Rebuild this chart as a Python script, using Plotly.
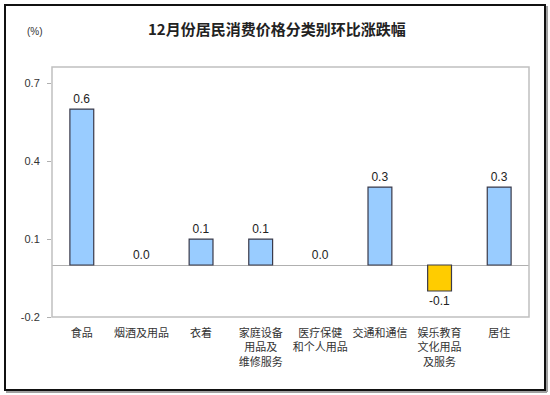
import plotly.graph_objects as go

categories = ["食品", "烟酒及用品", "衣着", "家庭设备<br>用品及<br>维修服务", "医疗保健<br>和个人用品",
              "交通和通信", "娱乐教育<br>文化用品<br>及服务", "居住"]
values = [0.6, 0.0, 0.1, 0.1, 0.0, 0.3, -0.1, 0.3]
labels = ["0.6", "0.0", "0.1", "0.1", "0.0", "0.3", "-0.1", "0.3"]
y_ticks = [-0.2, 0.1, 0.4, 0.7]
y_ticktext = ["-0.2", "0.1", "0.4", "0.7"]

colors = ["#FFCC00" if v < 0 else "#99CCFF" for v in values]
line_w = [0 if v == 0 else 1.2 for v in values]

fig = go.Figure()
fig.add_trace(go.Bar(
    x=categories, y=values, width=0.4,
    marker=dict(color=colors, line=dict(color="#3a3a4a", width=line_w)),
    text=labels, textposition="outside", cliponaxis=False,
    textfont=dict(size=12, color="#222", family="Arial, Liberation Sans, sans-serif"),
))

L, R, T, B = 52, 21, 67, 78
W, H = 550, 395
pw, ph = W - L - R, H - T - B

def px(x):
    return (x - L) / pw

def py(y):
    return (H - B - y) / ph

fig.update_layout(
    width=W, height=H,
    margin=dict(l=L, r=R, t=T, b=B, autoexpand=False),
    paper_bgcolor="white", plot_bgcolor="white",
    showlegend=False,
    font=dict(family="Noto Sans CJK SC, sans-serif", color="#333"),
    xaxis=dict(showgrid=False, showline=False, ticks="", automargin=False, ticklabelstandoff=8,
               tickfont=dict(size=11, color="#333"), tickangle=0, fixedrange=True),
    yaxis=dict(range=[-0.2, 0.762], tickvals=y_ticks, ticktext=y_ticktext, showgrid=False,
               automargin=False, zeroline=True, zerolinecolor="#b0b0b0", zerolinewidth=1.2,
               showline=False, ticks="outside", ticklen=4, tickcolor="#b0b0b0", ticklabelstandoff=5,
               tickfont=dict(size=11, color="#333", family="Arial, Liberation Sans, sans-serif")),
    annotations=[
        dict(text="12月份居民消费价格分类别环比涨跌幅", x=px(277), y=py(28), xref="paper", yref="paper",
             showarrow=False, font=dict(size=15, color="#222", family="Noto Sans CJK SC, sans-serif",
                                        weight="bold"),
             xanchor="center", yanchor="middle"),
        dict(text="(%)", x=px(35), y=py(31), xref="paper", yref="paper", showarrow=False,
             font=dict(size=10, color="#333", family="Arial, Liberation Sans, sans-serif"),
             xanchor="center", yanchor="middle"),
    ],
    shapes=[
        dict(type="rect", xref="paper", yref="paper", x0=0, x1=1, y0=0, y1=1,
             line=dict(color="#c0c0c0", width=1.5), layer="above"),
        dict(type="line", xref="paper", yref="paper", x0=px(547), x1=px(547), y0=py(392), y1=py(6),
             line=dict(color="#a0a0a0", width=2)),
        dict(type="line", xref="paper", yref="paper", x0=px(6), x1=px(547), y0=py(392), y1=py(392),
             line=dict(color="#a0a0a0", width=2)),
        dict(type="rect", xref="paper", yref="paper", x0=px(5), x1=px(545), y0=py(390), y1=py(5),
             line=dict(color="#111", width=2)),
    ],
)
fig.write_html("out.html", config={"displayModeBar": False},
               post_script="document.body.style.margin='0';document.body.style.overflow='hidden';")
